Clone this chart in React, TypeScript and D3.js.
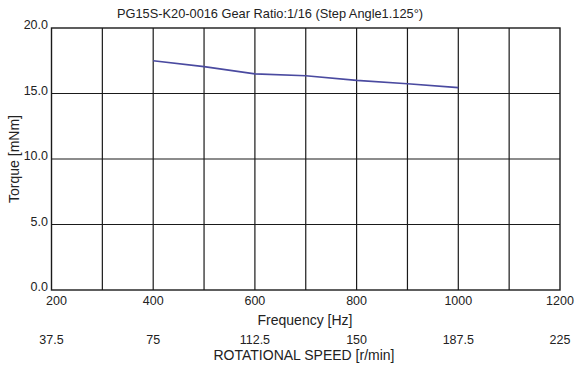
import React, { useEffect, useRef } from 'react';
import * as d3 from 'd3';

const frequency = [400, 500, 600, 700, 800, 900, 1000];
const torque = [17.5, 17.05, 16.5, 16.35, 16.0, 15.75, 15.45];
const freqTicks = [200, 400, 600, 800, 1000, 1200];
const speedTicks = ['37.5', '75', '112.5', '150', '187.5', '225'];
const torqueTicks = [0, 5, 10, 15, 20];

const App = () => {
  const svgRef = useRef<SVGSVGElement>(null);

  useEffect(() => {
    const svg = d3.select(svgRef.current);
    svg.selectAll('*').remove();

    const left = 51.5;
    const right = 560;
    const top = 28;
    const bottom = 290;
    const font = 'Liberation Sans, Arial, sans-serif';

    const x = d3.scaleLinear().domain([200, 1200]).range([left, right]);
    const y = d3.scaleLinear().domain([0, 20]).range([bottom, top]);

    // grid
    const g = svg.append('g');
    g.selectAll('.vg')
      .data(d3.range(300, 1200, 100))
      .enter()
      .append('line')
      .attr('x1', (d) => x(d))
      .attr('x2', (d) => x(d))
      .attr('y1', top)
      .attr('y2', bottom)
      .attr('stroke', '#1a1a1a')
      .attr('stroke-width', 1.2);
    g.selectAll('.hg')
      .data([5, 10, 15])
      .enter()
      .append('line')
      .attr('x1', left)
      .attr('x2', right)
      .attr('y1', (d) => y(d))
      .attr('y2', (d) => y(d))
      .attr('stroke', '#1a1a1a')
      .attr('stroke-width', 1.2);
    g.append('rect')
      .attr('x', left)
      .attr('y', top)
      .attr('width', right - left)
      .attr('height', bottom - top)
      .attr('fill', 'none')
      .attr('stroke', '#1a1a1a')
      .attr('stroke-width', 1.4);

    // curve
    const line = d3
      .line<number>()
      .x((d, i) => x(frequency[i]))
      .y((d) => y(d));
    svg
      .append('path')
      .datum(torque)
      .attr('d', line)
      .attr('fill', 'none')
      .attr('stroke', '#4a4aa0')
      .attr('stroke-width', 1.6);

    // y labels
    svg
      .selectAll('.yl')
      .data(torqueTicks)
      .enter()
      .append('text')
      .attr('x', 48)
      .attr('y', (d) => y(d) + 1)
      .attr('text-anchor', 'end')
      .attr('font-family', font)
      .attr('font-size', 12.5)
      .attr('fill', '#222')
      .text((d) => d.toFixed(1));

    // frequency labels
    svg
      .selectAll('.xl')
      .data(freqTicks)
      .enter()
      .append('text')
      .attr('x', (d, i) => x(d) + (i === 0 ? 5 : 0))
      .attr('y', 305)
      .attr('text-anchor', 'middle')
      .attr('font-family', font)
      .attr('font-size', 12.5)
      .attr('fill', '#222')
      .text((d) => d);

    // speed labels
    svg
      .selectAll('.sl')
      .data(speedTicks)
      .enter()
      .append('text')
      .attr('x', (d, i) => x(freqTicks[i]))
      .attr('y', 344)
      .attr('text-anchor', 'middle')
      .attr('font-family', font)
      .attr('font-size', 12.5)
      .attr('fill', '#222')
      .text((d) => d);

    svg
      .append('text')
      .attr('x', 305)
      .attr('y', 325)
      .attr('text-anchor', 'middle')
      .attr('font-family', font)
      .attr('font-size', 14)
      .attr('fill', '#222')
      .text('Frequency [Hz]');

    svg
      .append('text')
      .attr('x', 304)
      .attr('y', 360)
      .attr('text-anchor', 'middle')
      .attr('font-family', font)
      .attr('font-size', 14)
      .attr('fill', '#222')
      .text('ROTATIONAL SPEED [r/min]');

    svg
      .append('text')
      .attr('transform', `translate(19,${(top + bottom) / 2}) rotate(-90)`)
      .attr('text-anchor', 'middle')
      .attr('font-family', font)
      .attr('font-size', 14)
      .attr('fill', '#222')
      .text('Torque [mNm]');

    svg
      .append('text')
      .attr('x', 270)
      .attr('y', 18)
      .attr('text-anchor', 'middle')
      .attr('font-family', font)
      .attr('font-size', 12.8)
      .attr('fill', '#222')
      .text('PG15S-K20-0016 Gear Ratio:1/16 (Step Angle1.125°)');
  }, []);

  return (
    <svg
      ref={svgRef}
      width={586}
      height={369}
      style={{ position: 'absolute', left: 0, top: 0, background: '#fff' }}
    ></svg>
  );
};

export default App;
